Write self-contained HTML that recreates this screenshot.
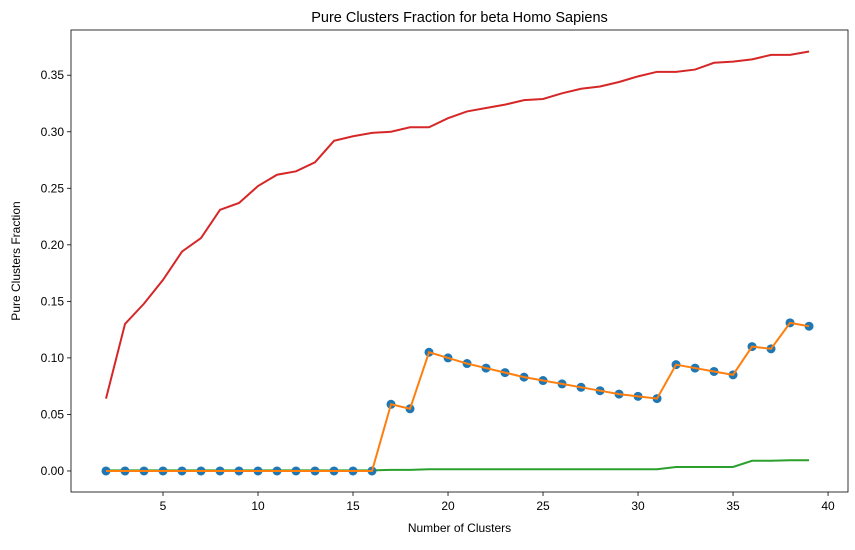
<!DOCTYPE html>
<html><head><meta charset="utf-8"><style>
body{margin:0;background:#fff;font-family:"Liberation Sans",sans-serif}
</style></head><body>
<svg id="chart" width="855" height="545" xmlns="http://www.w3.org/2000/svg" font-family="Liberation Sans, sans-serif"></svg>
<script>
const xs=[2,3,4,5,6,7,8,9,10,11,12,13,14,15,16,17,18,19,20,21,22,23,24,25,26,27,28,29,30,31,32,33,34,35,36,37,38,39];
const redVals=[0.064,0.130,0.148,0.169,0.194,0.206,0.231,0.237,0.252,0.262,0.265,0.273,0.292,0.296,0.299,0.300,0.304,0.304,0.312,0.318,0.321,0.324,0.328,0.329,0.334,0.338,0.340,0.344,0.349,0.353,0.353,0.355,0.361,0.362,0.364,0.368,0.368,0.371];
const blueVals=[0,0,0,0,0,0,0,0,0,0,0,0,0,0,0,0.059,0.055,0.105,0.100,0.095,0.091,0.087,0.083,0.080,0.077,0.074,0.071,0.068,0.066,0.064,0.094,0.091,0.088,0.085,0.110,0.108,0.131,0.128];
const greenVals=[0.0005,0.0005,0.0005,0.0005,0.0005,0.0005,0.0005,0.0005,0.0005,0.0005,0.0005,0.0005,0.0005,0.0005,0.0005,0.001,0.001,0.0015,0.0015,0.0015,0.0015,0.0015,0.0015,0.0015,0.0015,0.0015,0.0015,0.0015,0.0015,0.0015,0.0035,0.0035,0.0035,0.0035,0.009,0.009,0.0095,0.0095];
const xTicks=[5,10,15,20,25,30,35,40];
const yTicks=[0,0.05,0.10,0.15,0.20,0.25,0.30,0.35];
const L=71,R=848,T=30,B=492;
const xMin=0.158,xMax=41.05,yMin=-0.0186,yMax=0.390;
const sx=v=>L+(v-xMin)/(xMax-xMin)*(R-L);
const sy=v=>B-(v-yMin)/(yMax-yMin)*(B-T);
const svg=document.getElementById('chart');
const NS='http://www.w3.org/2000/svg';
function mk(tag,attrs,parent){const e=document.createElementNS(NS,tag);for(const k in attrs)e.setAttribute(k,attrs[k]);(parent||svg).appendChild(e);return e;}
let e;
e=mk('text',{x:(L+R)/2,y:22,'text-anchor':'middle','font-size':14.5,fill:'#000'});e.textContent='Pure Clusters Fraction for beta Homo Sapiens';


xTicks.forEach(t=>{const x=sx(t);
 e=mk('line',{x1:x,x2:x,y1:B,y2:B+4,stroke:'#000','stroke-width':0.8});
 
 
 e=mk('text',{x:x,y:B+18,'text-anchor':'middle','font-size':12});e.textContent=t;
 
 });
yTicks.forEach(t=>{const y=sy(t);
 e=mk('line',{x1:L-4,x2:L,y1:y,y2:y,stroke:'#000','stroke-width':0.8});
 
 
 e=mk('text',{x:L-7,y:y+4,'text-anchor':'end','font-size':12});e.textContent=t.toFixed(2);
 
 });
e=mk('text',{x:(L+R)/2,y:532,'text-anchor':'middle','font-size':12});e.textContent='Number of Clusters';


e=mk('text',{x:20,y:(T+B)/2,'text-anchor':'middle','font-size':12,transform:`rotate(-90 20 ${(T+B)/2})`});e.textContent='Pure Clusters Fraction';


function pts(vals){return xs.map((x,i)=>sx(x)+','+sy(vals[i])).join(' ');}
e=mk('polyline',{points:pts(redVals),fill:'none',stroke:'#d62728','stroke-width':2});


e=mk('polyline',{points:pts(greenVals),fill:'none',stroke:'#2ca02c','stroke-width':2});


xs.forEach((x,i)=>{e=mk('circle',{cx:sx(x),cy:sy(blueVals[i]),r:4.5,fill:'#1f77b4'});
 
 });
e=mk('polyline',{points:pts(blueVals),fill:'none',stroke:'#ff7f0e','stroke-width':2});


e=mk('rect',{x:L,y:T,width:R-L,height:B-T,fill:'none',stroke:'#000','stroke-width':0.8});


</script>
</body></html>
